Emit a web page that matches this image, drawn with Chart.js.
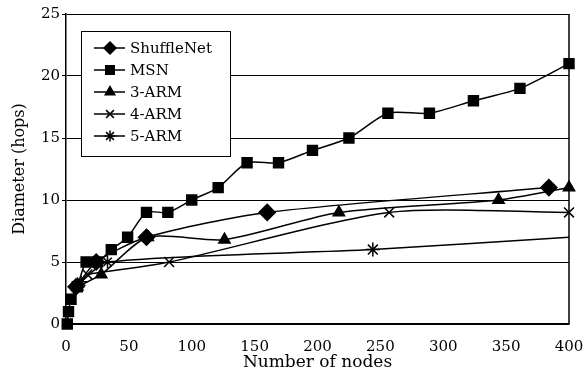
<!DOCTYPE html>
<html>
<head>
<meta charset="utf-8">
<script src="https://cdn.jsdelivr.net/npm/chart.js@4/dist/chart.umd.min.js"></script>
<style>
  html, body { margin: 0; padding: 0; background: #fff; }
</style>
</head>
<body>
<canvas id="chart1" width="584" height="375"></canvas>
<script>
// values (x = number of nodes, y = diameter in hops)
const shuffleX = [8, 24, 64, 160, 384];
const shuffleY = [3, 5, 7, 9, 11];

const msnX = [1, 2, 4, 9, 16, 25, 36, 49, 64, 81, 100, 121, 144, 169, 196, 225, 256, 289, 324, 361, 400];
const msnY = [0, 1, 2, 3, 5, 5, 6, 7, 9, 9, 10, 11, 13, 13, 14, 15, 17, 17, 18, 19, 21];

const arm3X = [9, 28, 65, 126, 217, 344, 400];
const arm3Y = [3, 4, 7, 6.8, 9, 10, 11];

const arm4X = [17, 82, 257, 400];
const arm4Y = [4, 5, 9, 9];

const arm5X = [12, 33, 244, 400];
const arm5Y = [3.4, 5, 6, 7];

const xTicks = [0, 50, 100, 150, 200, 250, 300, 350, 400];
const yTicks = [0, 5, 10, 15, 20, 25];

const FONT = '"DejaVu Serif", serif';

function pts(xs, ys) {
    return xs.map((x, i) => ({ x: x, y: ys[i] }));
}

function series(label, xs, ys, style, radius, legendRadius) {
    return {
        label: label,
        data: pts(xs, ys),
        borderColor: '#000',
        backgroundColor: '#000',
        borderWidth: 1.5,
        pointStyle: style,
        pointRadius: radius,
        pointBackgroundColor: '#000',
        pointBorderColor: '#000',
        pointBorderWidth: 1.5,
        tension: 0.25,
        clip: false,
        legendRadius: legendRadius
    };
}

// legend box inside the plot + right frame line
const boxLegend = {
    id: 'boxLegend',
    afterDraw(chart) {
        const ctx = chart.ctx;
        const a = chart.chartArea;
        ctx.save();
        ctx.strokeStyle = '#000';
        ctx.lineWidth = 1.5;
        ctx.beginPath();
        ctx.moveTo(a.right, a.top);
        ctx.lineTo(a.right, a.bottom);
        ctx.stroke();

        const left = a.left + 15, top = a.top + 17, w = 149, h = 125;
        ctx.fillStyle = '#fff';
        ctx.fillRect(left, top, w, h);
        ctx.lineWidth = 1;
        ctx.strokeRect(left + 0.5, top + 0.5, w, h);
        ctx.font = '15px ' + FONT;
        ctx.textBaseline = 'middle';
        chart.data.datasets.forEach((ds, i) => {
            const y = top + 17 + i * 22;
            ctx.strokeStyle = '#000';
            ctx.lineWidth = 1.5;
            ctx.beginPath();
            ctx.moveTo(left + 13, y);
            ctx.lineTo(left + 44, y);
            ctx.stroke();
            ctx.fillStyle = '#000';
            Chart.helpers.drawPoint(ctx, { pointStyle: ds.pointStyle, radius: ds.legendRadius, borderWidth: 1.5, rotation: 0 }, left + 29, y);
            ctx.fillText(ds.label, left + 49, y + 1);
        });
        ctx.restore();
    }
};

new Chart(document.getElementById('chart1'), {
    type: 'line',
    data: {
        datasets: [
            series('ShuffleNet', shuffleX, shuffleY, 'rectRot', 8, 6),
            series('MSN', msnX, msnY, 'rect', 7, 6),
            series('3-ARM', arm3X, arm3Y, 'triangle', 6.5, 5.5),
            series('4-ARM', arm4X, arm4Y, 'crossRot', 7, 5.5),
            series('5-ARM', arm5X, arm5Y, 'star', [6, 6, 7, 0], 5.5)
        ]
    },
    options: {
        responsive: false,
        animation: false,
        devicePixelRatio: 1,
        layout: { padding: { top: 14, right: 15, left: 0, bottom: 0 } },
        plugins: {
            legend: { display: false },
            tooltip: { enabled: false }
        },
        scales: {
            x: {
                type: 'linear',
                min: 0,
                max: 400,
                afterBuildTicks: s => { s.ticks = xTicks.map(v => ({ value: v })); },
                afterFit: s => { s.height = 51; s.paddingLeft = 0; s.paddingRight = 0; },
                grid: { display: false },
                border: { display: true, color: '#000', width: 1.5 },
                ticks: { color: '#000', padding: 6, maxRotation: 0, font: { family: FONT, size: 15 } },
                title: {
                    display: true,
                    text: 'Number of nodes',
                    color: '#000',
                    padding: { top: 0, bottom: 2 },
                    font: { family: FONT, size: 17 }
                }
            },
            y: {
                type: 'linear',
                min: 0,
                max: 25,
                afterBuildTicks: s => { s.ticks = yTicks.map(v => ({ value: v })); },
                afterFit: s => { s.width = 66; },
                grid: { color: '#000', lineWidth: 1, tickLength: 4 },
                border: { display: true, color: '#000', width: 1.5 },
                ticks: { color: '#000', padding: 2, font: { family: FONT, size: 15 } },
                title: {
                    display: true,
                    text: 'Diameter (hops)',
                    color: '#000',
                    padding: { top: 10, bottom: 0 },
                    font: { family: FONT, size: 16 }
                }
            }
        }
    },
    plugins: [boxLegend]
});
</script>
</body>
</html>
